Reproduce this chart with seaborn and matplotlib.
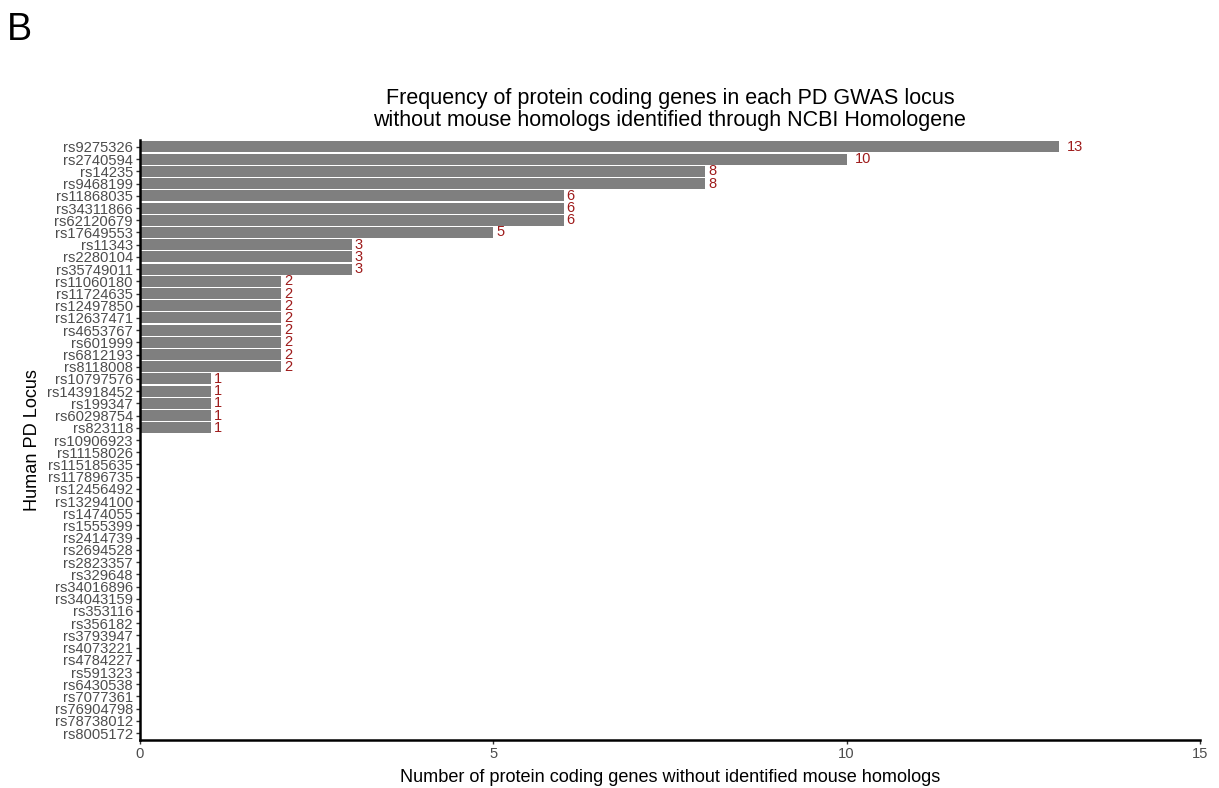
import pandas as pd
import seaborn as sns
import matplotlib.pyplot as plt

# loci and counts of protein coding genes without mouse homologs
loci = ["rs9275326", "rs2740594", "rs14235", "rs9468199", "rs11868035", "rs34311866",
        "rs62120679", "rs17649553", "rs11343", "rs2280104", "rs35749011", "rs11060180",
        "rs11724635", "rs12497850", "rs12637471", "rs4653767", "rs601999", "rs6812193",
        "rs8118008", "rs10797576", "rs143918452", "rs199347", "rs60298754", "rs823118",
        "rs10906923", "rs11158026", "rs115185635", "rs117896735", "rs12456492", "rs13294100",
        "rs1474055", "rs1555399", "rs2414739", "rs2694528", "rs2823357", "rs329648",
        "rs34016896", "rs34043159", "rs353116", "rs356182", "rs3793947", "rs4073221",
        "rs4784227", "rs591323", "rs6430538", "rs7077361", "rs76904798", "rs78738012",
        "rs8005172"]
counts = [13, 10, 8, 8, 6, 6, 6, 5, 3, 3, 3, 2, 2, 2, 2, 2, 2, 2, 2, 1, 1, 1, 1, 1] + [0] * 25

df = pd.DataFrame({"locus": loci, "n": counts})

sns.set_style("white")
plt.rcParams['font.family'] = ['Liberation Sans', 'DejaVu Sans']
plt.rcParams['text.color'] = 'black'

fig = plt.figure(figsize=(12.19, 7.88), dpi=100)
ax = fig.add_axes([0.1148, 0.0609, 0.8696, 0.7614])

sns.barplot(data=df, x="n", y="locus", order=loci, orient="h", color="#7f7f7f",
            saturation=1, width=0.9, linewidth=0, ax=ax)

# count labels to the right of each bar
for i, (loc, v) in enumerate(zip(loci, counts)):
    if v > 0:
        off = 6 if v >= 10 else 2
        ax.annotate(str(v), (v, i), xytext=(off, 0), textcoords="offset points",
                    ha="left", va="center", color="#9E1B1B", fontsize=10.5)

ax.set_xlim(0, 15)
ax.set_ylim(48.57, -0.57)
ax.set_xticks([0, 5, 10, 15])
ax.tick_params(axis="both", labelcolor="#4d4d4d", labelsize=10.6, length=3, width=1,
               color="#333333", direction="out", left=True, bottom=True, pad=2)
for s in ["top", "right"]:
    ax.spines[s].set_visible(False)
for s in ["left", "bottom"]:
    ax.spines[s].set_color("black")
    ax.spines[s].set_linewidth(1.8)

ax.set_xlabel("Number of protein coding genes without identified mouse homologs",
              fontsize=13.1, color="black", labelpad=6)
ax.set_ylabel("Human PD Locus", fontsize=13.1, color="black")
ax.set_title("Frequency of protein coding genes in each PD GWAS locus\n"
             "without mouse homologs identified through NCBI Homologene",
             fontsize=15.5, color="black", pad=10, linespacing=1.05)

fig.text(0.006, 0.985, "B", fontsize=27, va="top", ha="left", color="black")

fig.savefig("out.png", dpi=100)
